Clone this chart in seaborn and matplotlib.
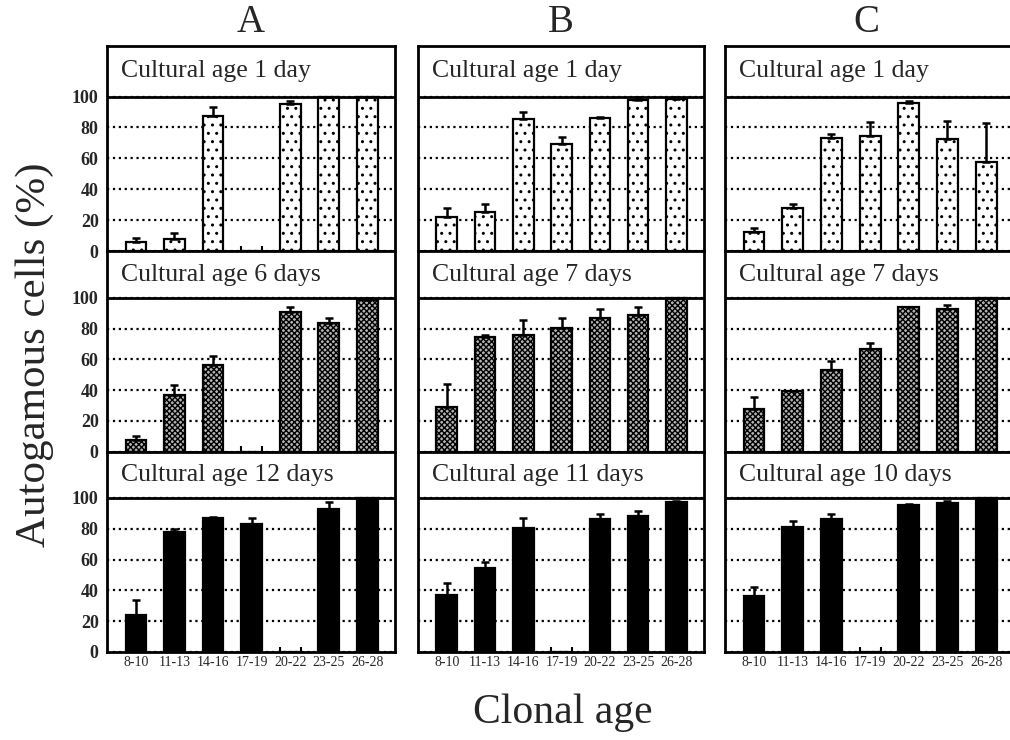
import numpy as np
import seaborn as sns
import matplotlib.pyplot as plt

nan = np.nan

clonal_age = ['8-10', '11-13', '14-16', '17-19', '20-22', '23-25', '26-28']
panels = ['A', 'B', 'C']

# cultural age shown in the header of each row, per panel
days_a = ['Cultural age 1 day', 'Cultural age 6 days', 'Cultural age 12 days']
days_b = ['Cultural age 1 day', 'Cultural age 7 days', 'Cultural age 11 days']
days_c = ['Cultural age 1 day', 'Cultural age 7 days', 'Cultural age 10 days']

# autogamous cells (%) and upper error
a_row1 = [5.8, 7.6, 87.4, 0, 95.0, 100, 100]
a_row1_err = [2.9, 4.1, 5.5, nan, 2.4, nan, nan]
a_row2 = [7.6, 36.8, 56.6, 0, 90.8, 83.4, 98.9]
a_row2_err = [2.2, 6.8, 5.5, nan, 3.3, 3.7, 1.1]
a_row3 = [23.8, 77.9, 86.8, 82.9, 0, 92.9, 100]
a_row3_err = [10.2, 2.0, 1.1, 4.3, nan, 4.3, nan]

b_row1 = [21.7, 25.0, 85.4, 69.3, 86.1, 97.8, 98.5]
b_row1_err = [5.9, 5.4, 4.6, 4.2, 0.4, 1.8, 1.1]
b_row2 = [28.9, 74.6, 75.9, 80.7, 87.2, 88.7, 100]
b_row2_err = [15.2, 1.1, 10.0, 6.5, 5.8, 5.4, nan]
b_row3 = [37.2, 54.6, 80.4, 0, 86.5, 88.0, 97.4]
b_row3_err = [7.8, 4.1, 6.6, nan, 3.1, 3.3, 0.4]

c_row1 = [12.6, 27.6, 73.0, 74.6, 95.7, 72.4, 57.4]
c_row1_err = [2.6, 2.8, 3.0, 8.7, 1.7, 11.9, 25.2]
c_row2 = [27.6, 39.5, 53.1, 66.5, 94.0, 93.1, 100]
c_row2_err = [7.6, nan, 5.9, 3.9, nan, 2.4, nan]
c_row3 = [36.6, 81.0, 86.6, 0, 95.5, 97.0, 100]
c_row3_err = [5.9, 4.1, 2.8, nan, 0.8, 0.8, nan]

data = {
    'A': (days_a, [a_row1, a_row2, a_row3], [a_row1_err, a_row2_err, a_row3_err]),
    'B': (days_b, [b_row1, b_row2, b_row3], [b_row1_err, b_row2_err, b_row3_err]),
    'C': (days_c, [c_row1, c_row2, c_row3], [c_row1_err, c_row2_err, c_row3_err]),
}

sns.set_style('white')
plt.rcParams['font.family'] = ['Liberation Serif', 'DejaVu Serif']
plt.rcParams['hatch.linewidth'] = 1.0

W, H = 1010, 740
fig = plt.figure(figsize=(W / 100, H / 100), dpi=100)

# layout in pixels
panel_x = [(107, 395), (418, 704), (725, 1014)]
row_top = [46, 251, 451.5]
row_100 = [96.5, 298, 498]
row_0 = [251, 451.5, 652]

bar_styles = [dict(color='white', hatch='..'),
              dict(color='#b4b4b4', hatch='xxxxxx'),
              dict(color='black', hatch=None)]
bar_w = 0.54

for p, name in enumerate(panels):
    headers, rows, errs = data[name]
    x0, x1 = panel_x[p]
    for r in range(3):
        ax = fig.add_axes([x0 / W, 1 - row_0[r] / H, (x1 - x0) / W, (row_0[r] - row_top[r]) / H])
        vals = rows[r]
        err = np.array(errs[r])
        sns.barplot(x=clonal_age, y=vals, order=clonal_age, ax=ax, errorbar=None,
                    width=bar_w, edgecolor='black', linewidth=1.6, saturation=1,
                    zorder=2, **bar_styles[r])
        ax.errorbar(np.arange(len(vals)), vals, yerr=[np.zeros(len(vals)), err],
                    fmt='none', ecolor='black', elinewidth=1.8, capsize=3, capthick=1.8, zorder=3)
        # empty categories show only the two edge ticks of a zero bar
        for i, v in enumerate(vals):
            if v == 0:
                ax.vlines([i - bar_w / 2, i + bar_w / 2], 0, 3.5, color='black', lw=1.5, zorder=3)

        ytop = 100 * (row_0[r] - row_top[r]) / (row_0[r] - row_100[r])
        ax.set_ylim(0, ytop)
        ax.set_xlim(-0.75, 6.72)
        ax.set_yticks([0, 20, 40, 60, 80, 100])
        ax.set_axisbelow(True)
        ax.grid(axis='y', linestyle=':', color='black', lw=1.6)
        ax.grid(axis='x', visible=False)
        ax.axhline(100, color='black', lw=2, zorder=4)
        for s in ax.spines.values():
            s.set_linewidth(2)
            s.set_color('black')
        ax.set_xlabel('')
        ax.set_ylabel('')
        ax.annotate(headers[r], xy=(0, (100 + ytop) / 2), xycoords=('axes fraction', 'data'),
                    xytext=(10, 0), textcoords='offset points', va='center', ha='left',
                    fontsize=18.5)
        if p == 0:
            ax.tick_params(axis='y', length=3, width=1.5, pad=3, labelsize=13)
            for t in ax.get_yticklabels():
                t.set_fontweight('bold')
        else:
            ax.tick_params(axis='y', length=0, labelleft=False)
        if r == 2:
            ax.tick_params(axis='x', length=0, pad=3, labelsize=10)
        else:
            ax.tick_params(axis='x', length=0, labelbottom=False)

    fig.text(((x0 + min(x1, 1008)) / 2) / W, 1 - 23 / H, name, ha='center', va='center', fontsize=28)

fig.text(35 / W, 1 - 355 / H, 'Autogamous cells (%)', rotation=90, ha='center', va='center', fontsize=31)
fig.text(563 / W, 1 - 713 / H, 'Clonal age', ha='center', va='center', fontsize=30)

fig.savefig('out.png', dpi=100)
